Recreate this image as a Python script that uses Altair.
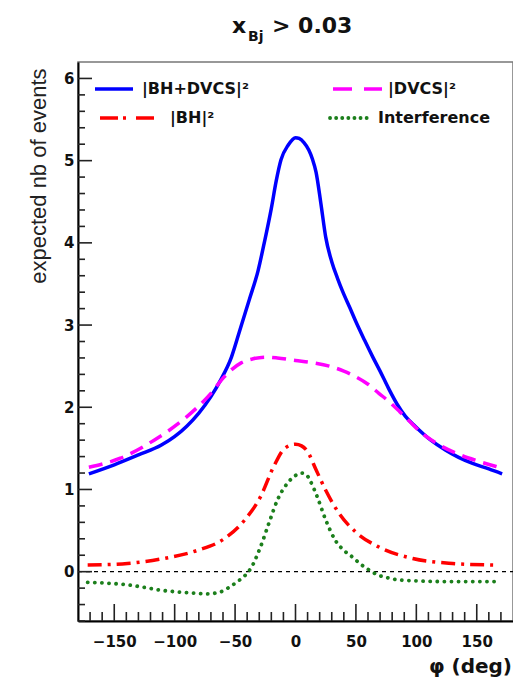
import altair as alt
import pandas as pd

# ---- curves: expected number of events vs phi (deg) ----
phi_tot = [-171, -150, -130, -111, -90, -80, -70, -62, -53, -46, -38, -31, -26, -20, -16, -12, -6, 0,
           3, 7, 11, 14, 17, 21, 25, 30, 35, 39, 45, 50, 57, 64, 70, 77, 84, 91, 99, 112, 124, 135, 146,
           160, 171]
tot = [1.19, 1.30, 1.42, 1.54, 1.77, 1.93, 2.13, 2.33, 2.61, 2.94, 3.32, 3.66, 3.99, 4.42, 4.75, 5.01,
       5.19, 5.28, 5.27, 5.22, 5.13, 5.02, 4.86, 4.48, 4.07, 3.77, 3.56, 3.41, 3.21, 3.04, 2.82, 2.61,
       2.44, 2.23, 2.04, 1.89, 1.77, 1.60, 1.48, 1.39, 1.32, 1.25, 1.19]

phi_dvcs = [-171, -145, -117, -92, -70, -59, -45, -35, -25, -15, 0, 15, 28, 40, 50, 60, 69, 78, 86,
            95, 105, 118, 133, 150, 166, 171]
dvcs = [1.27, 1.38, 1.60, 1.86, 2.17, 2.37, 2.54, 2.59, 2.61, 2.60, 2.57, 2.54, 2.50, 2.44, 2.37, 2.28,
        2.17, 2.06, 1.95, 1.82, 1.68, 1.55, 1.44, 1.35, 1.28, 1.26]

phi_bh = [-172, -139, -109, -81, -59, -42, -29, -18, -9, 0, 5, 10, 17, 25, 36, 50, 69, 97, 130, 166]
bh = [0.08, 0.10, 0.16, 0.26, 0.40, 0.63, 0.91, 1.28, 1.50, 1.55, 1.53, 1.46, 1.24, 0.99, 0.71, 0.48,
      0.30, 0.16, 0.10, 0.08]

phi_int = [-172, -139, -109, -85, -73, -63, -56, -48, -42, -37, -29, -22, -15, -7, 0, 5, 9, 12, 18,
           25, 33, 40, 47, 54, 61, 68, 75, 85, 97, 124, 166]
interf = [-0.13, -0.16, -0.23, -0.26, -0.27, -0.25, -0.20, -0.12, -0.05, 0.04, 0.30, 0.59, 0.87, 1.07,
          1.17, 1.20, 1.18, 1.11, 0.91, 0.63, 0.38, 0.26, 0.18, 0.09, 0.02, -0.04, -0.07, -0.10, -0.11,
          -0.12, -0.12]

# ---- axis ticks ----
x_labels = [-150, -100, -50, 0, 50, 100, 150]
x_major = [-150, -100, -50, 0, 50, 100, 150]
x_minor = [v for v in range(-170, 180, 10) if v % 50 != 0]
y_labels = [0, 1, 2, 3, 4, 5, 6]
y_major = [0, 1, 2, 3, 4, 5, 6]
y_minor = [round(v * 0.2, 1) for v in range(-3, 31) if v % 5 != 0]

W, H = 435, 559
BOLD = "DejaVu Sans"
GREEN = "#1c7f1c"

x_scale = alt.Scale(domain=[-180, 180], nice=False, zero=False)
y_scale = alt.Scale(domain=[-0.60, 6.20], nice=False, zero=False)

x_axis = alt.Axis(values=x_labels, ticks=False, grid=False, title=None, labelFont=BOLD,
                  labelFontWeight="bold", labelFontSize=15, labelColor="#111", labelPadding=13,
                  domainColor="#000", domainWidth=2, labelFlush=False)
y_axis = alt.Axis(values=y_labels, format="d", ticks=False, grid=False, title="expected nb of events",
                  labelFont=BOLD, labelFontWeight="bold", labelFontSize=15, labelColor="#111",
                  labelPadding=4, domainColor="#000", domainWidth=2,
                  titleFont="Liberation Sans", titleFontSize=22, titleFontWeight="normal",
                  titleColor="#222", titleAngle=270, titleX=-40, titleY=6, titleAlign="right",
                  titleBaseline="middle")


def curve(phis, vals, color, dash, width=3.5, cap="butt"):
    df = pd.DataFrame({"phi": phis, "v": vals})
    mark = dict(color=color, strokeWidth=width, interpolate="monotone", strokeCap=cap)
    if dash:
        mark["strokeDash"] = dash
    return alt.Chart(df).mark_line(**mark).encode(
        x=alt.X("phi:Q", scale=x_scale, axis=x_axis),
        y=alt.Y("v:Q", scale=y_scale, axis=y_axis),
    )


zero_line = alt.Chart(pd.DataFrame({"v": [0]})).mark_rule(
    color="#000", strokeWidth=1.2, strokeDash=[4, 4]
).encode(y=alt.Y("v:Q", scale=y_scale, axis=y_axis), x=alt.value(0), x2=alt.value(W))

x_major_ticks = alt.Chart(pd.DataFrame({"t": x_major})).mark_rule(color="#222", strokeWidth=1.6).encode(
    x=alt.X("t:Q", scale=x_scale, axis=x_axis), y=alt.value(H), y2=alt.value(H - 17))
x_minor_ticks = alt.Chart(pd.DataFrame({"t": x_minor})).mark_rule(color="#222", strokeWidth=1.6).encode(
    x=alt.X("t:Q", scale=x_scale, axis=x_axis), y=alt.value(H), y2=alt.value(H - 9))
y_major_ticks = alt.Chart(pd.DataFrame({"t": y_major})).mark_rule(color="#222", strokeWidth=1.6).encode(
    y=alt.Y("t:Q", scale=y_scale, axis=y_axis), x=alt.value(0), x2=alt.value(14))
y_minor_ticks = alt.Chart(pd.DataFrame({"t": y_minor})).mark_rule(color="#222", strokeWidth=1.6).encode(
    y=alt.Y("t:Q", scale=y_scale, axis=y_axis), x=alt.value(0), x2=alt.value(7))

c_int = curve(phi_int, interf, GREEN, [0.1, 7], width=3.8, cap="round")
c_bh = curve(phi_bh, bh, "#ff0000", [14, 6, 3, 6])
c_tot = curve(phi_tot, tot, "#0000ff", None)
c_dvcs = curve(phi_dvcs, dvcs, "#ff00ff", [14, 8])

# ---- legend (drawn inside the frame, two columns) ----
one = pd.DataFrame({"k": [0]})


def key_line(x0, x1, y, color, dash=None, width=3.5, cap="butt"):
    mark = dict(color=color, strokeWidth=width, strokeCap=cap)
    if dash:
        mark["strokeDash"] = dash
    return alt.Chart(one).mark_rule(**mark).encode(
        x=alt.value(x0), x2=alt.value(x1), y=alt.value(y))


def label(txt, x, y, size=16, align="left", baseline="middle", weight="bold", font=BOLD):
    return alt.Chart(one).mark_text(
        text=txt, font=font, fontSize=size, fontWeight=weight, color="#111",
        align=align, baseline=baseline
    ).encode(x=alt.value(x), y=alt.value(y))


legend = [
    key_line(17, 55, 27, "#0000ff"),
    label("|BH+DVCS|²", 64, 27),
    key_line(255, 304, 27, "#ff00ff", [19, 12]),
    label("|DVCS|²", 310, 27),
    key_line(22, 79, 56, "#ff0000", [18, 5, 3, 10]),
    label("|BH|²", 92, 56),
    key_line(252, 294, 56, GREEN, [0.1, 6], width=3.8, cap="round"),
    label("Interference", 300, 56),
]

# ---- title x_Bj > 0.03 and x-axis title ----
title_parts = [
    label("x", 154, -29, size=22, baseline="alphabetic"),
    label("Bj", 170, -21, size=14, baseline="alphabetic"),
    label("> 0.03", 194, -29, size=22, baseline="alphabetic"),
]
x_title = label("φ (deg)", W - 1, 611, size=20, align="right", baseline="alphabetic")

chart = alt.layer(
    zero_line, x_major_ticks, x_minor_ticks, y_major_ticks, y_minor_ticks,
    c_int, c_bh, c_tot, c_dvcs, *legend, *title_parts, x_title
).properties(
    width=W, height=H,
    padding={"left": 78, "top": 62, "right": 0, "bottom": 58},
    autosize=alt.AutoSizeParams(type="none"),
    background="white",
).configure_view(stroke="#777", strokeWidth=1.5)

chart.save("out.html", embed_options={"renderer": "svg", "actions": False})
